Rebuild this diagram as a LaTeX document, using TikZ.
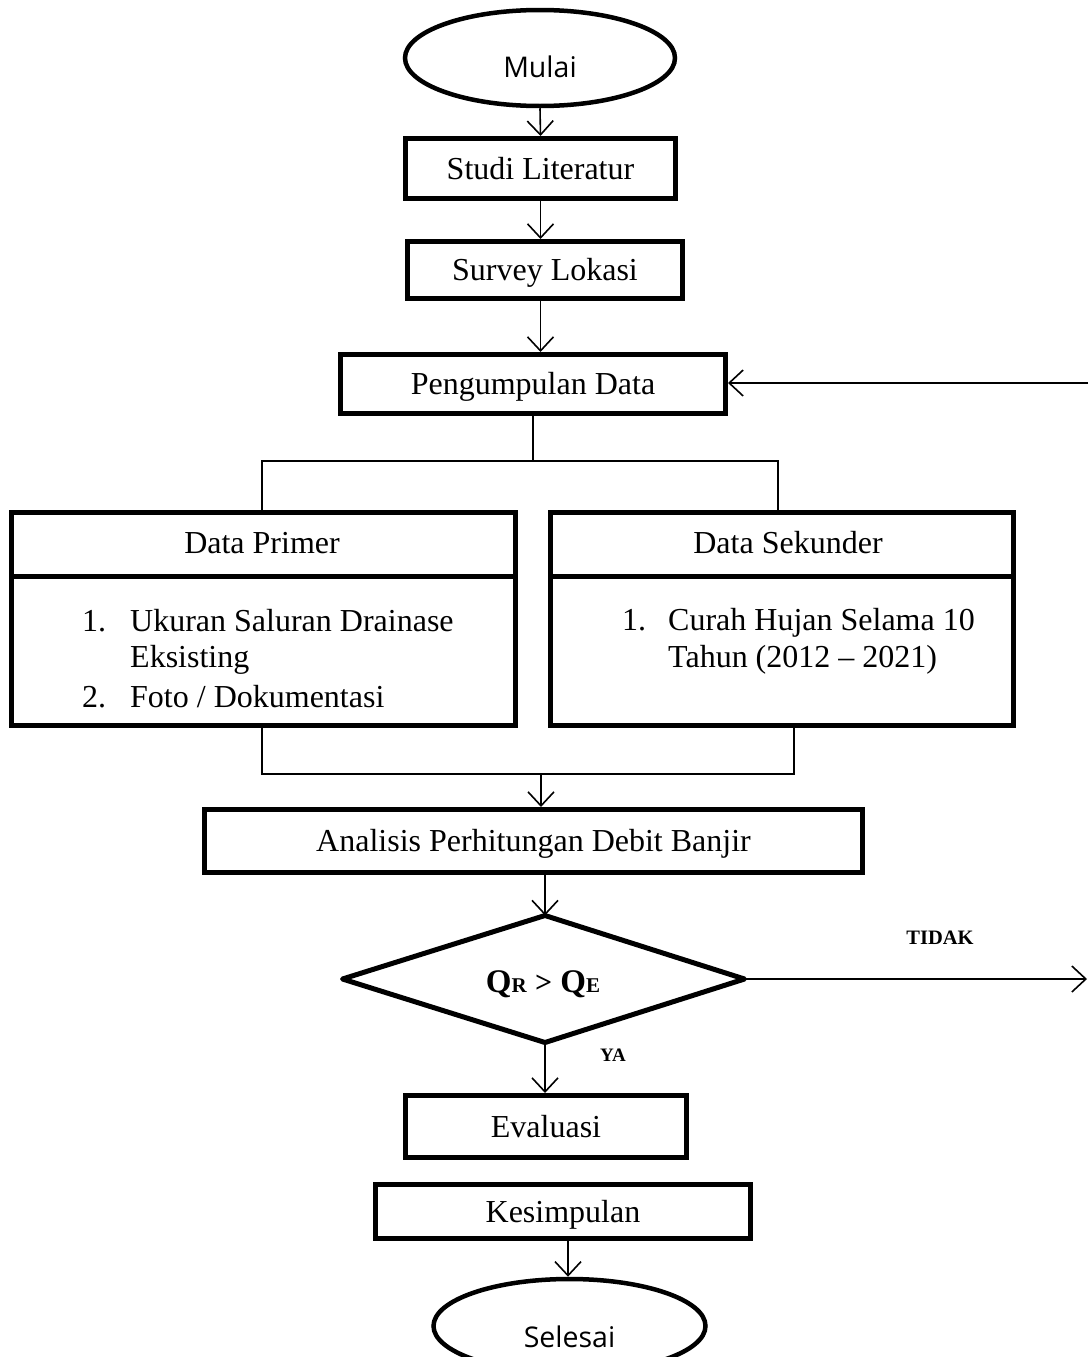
\documentclass[tikz,border=0pt]{standalone}
\usepackage{fontspec}
\setmainfont{Liberation Serif}
\newfontfamily\osans{Open Sans}
\usetikzlibrary{arrows.meta,calc,shapes.geometric}
\begin{document}
\begin{tikzpicture}[x=1pt,y=-1pt,
  box/.style={draw,line width=5pt,inner sep=0pt,text height=21pt,text depth=0pt,font=\fontsize{32}{38}\selectfont},
  term/.style={draw,ellipse,line width=4.5pt,inner sep=0pt},
  termtxt/.style={inner sep=0pt,font=\osans\fontsize{28.5}{34}\selectfont},
  ctxt/.style={inner sep=0pt,text height=21pt,text depth=0pt,font=\fontsize{32}{38}\selectfont},
  txt/.style={inner sep=0pt,font=\fontsize{32}{38}\selectfont},
  conn/.style={line width=1.6pt},
  arr/.style={conn,-{Straight Barb[length=14pt,width=26pt,line width=1.6pt]}},
  lbl/.style={inner sep=0pt,font=\fontsize{20.5}{24}\selectfont\bfseries}]
\useasboundingbox (0,0) rectangle (1088,1357);

% start
\node[term,minimum width=270pt,minimum height=96pt] (mulai) at (540,58) {};
\node[termtxt] (mulaitxt) at (540,67) {Mulai};

\node[box,minimum width=270pt,minimum height=60pt] (studi) at (540.5,168.5) {Studi Literatur};
\node[box,minimum width=275pt,minimum height=57pt] (survey) at (545,270) {Survey Lokasi};
\node[box,minimum width=385pt,minimum height=59pt] (peng) at (533,384) {Pengumpulan Data};

% data boxes
\node[draw,line width=5pt,minimum width=504pt,minimum height=213pt,inner sep=0pt] (primer) at (263.5,619) {};
\node[draw,line width=5pt,minimum width=463pt,minimum height=213pt,inner sep=0pt] (sekunder) at (782,619) {};
\coordinate (divy) at (0,576);
\draw[line width=5pt] (primer.west |- divy) -- (primer.east |- divy);
\draw[line width=5pt] (sekunder.west |- divy) -- (sekunder.east |- divy);
\node[ctxt] (primerh) at (262,543) {Data Primer};
\node[ctxt] (sekunderh) at (788,543) {Data Sekunder};

\node[txt,anchor=base west] (p1n) at (82,631) {1.};
\node[txt,anchor=base west] (p1) at (130,631) {Ukuran Saluran Drainase};
\node[txt,anchor=base west] (p1b) at (130,667) {Eksisting};
\node[txt,anchor=base west] (p2n) at (82,707) {2.};
\node[txt,anchor=base west] (p2) at (130,707) {Foto / Dokumentasi};

\node[txt,anchor=base west] (s1n) at (622,630) {1.};
\node[txt,anchor=base west] (s1) at (668,630) {Curah Hujan Selama 10};
\node[txt,anchor=base west] (s1b) at (668,667) {Tahun (2012 -- 2021)};

\node[box,minimum width=658pt,minimum height=63pt] (analisis) at (533.5,841) {Analisis Perhitungan Debit Banjir};

% decision
\coordinate (dtop) at (545,915.5);
\coordinate (dright) at (744.5,979);
\coordinate (dbot) at (545,1042.5);
\coordinate (dleft) at (342.5,979);
\draw[line width=5pt,line join=round] (dtop) -- (dright) -- (dbot) -- (dleft) -- cycle;
\node[inner sep=0pt,font=\fontsize{33}{38}\selectfont\bfseries] (qtxt) at (543,984)
  {Q{\fontsize{21}{24}\selectfont R} {\fontsize{30}{32}\selectfont>} Q{\fontsize{21}{24}\selectfont E}};
\node[lbl] (tidak) at (940,938) {TIDAK};
\node[lbl,font=\fontsize{19}{23}\selectfont\bfseries] (ya) at (613,1055) {YA};

\node[box,minimum width=281pt,minimum height=62pt] (evaluasi) at (546,1126.5) {Evaluasi};
\node[box,minimum width=375pt,minimum height=54pt] (kesimpulan) at (563,1211.5) {Kesimpulan};

\node[term,minimum width=272pt,minimum height=94pt] (selesai) at (569.5,1326) {};
\node[termtxt] (selesaitxt) at (569.5,1337) {Selesai};

% connectors
\draw[arr] (mulai.south) -- (studi.north);
\draw[arr] (studi.south) -- (studi.south |- survey.north);
\draw[arr] (studi.south |- survey.south) -- (studi.south |- peng.north);

\coordinate (jtop) at (533,461);
\coordinate (jtl) at (262,461);
\coordinate (jtr) at (778,461);
\draw[conn] (peng.south) -- (jtop);
\draw[conn] (jtl |- primer.north) -- (jtl) -- (jtr) -- (jtr |- sekunder.north);

\coordinate (jbl) at (262,774);
\coordinate (jbr) at (794,774);
\coordinate (jbm) at (541,774);
\draw[conn] (jbl |- primer.south) -- (jbl) -- (jbr) -- (jbr |- sekunder.south);
\draw[arr] (jbm) -- (jbm |- analisis.north);

\draw[arr] (dtop |- analisis.south) -- (dtop);
\draw[arr] (dbot) -- (dbot |- evaluasi.north);
\coordinate (kx) at (568,0);
\draw[arr] (kx |- kesimpulan.south) -- (kx |- selesai.north);

\coordinate (tidakend) at (1087,979);
\draw[arr] (dright) -- (tidakend);
\coordinate (loopstart) at (1088,383);
\draw[arr] (loopstart) -- (loopstart -| peng.east);
\end{tikzpicture}
\end{document}
